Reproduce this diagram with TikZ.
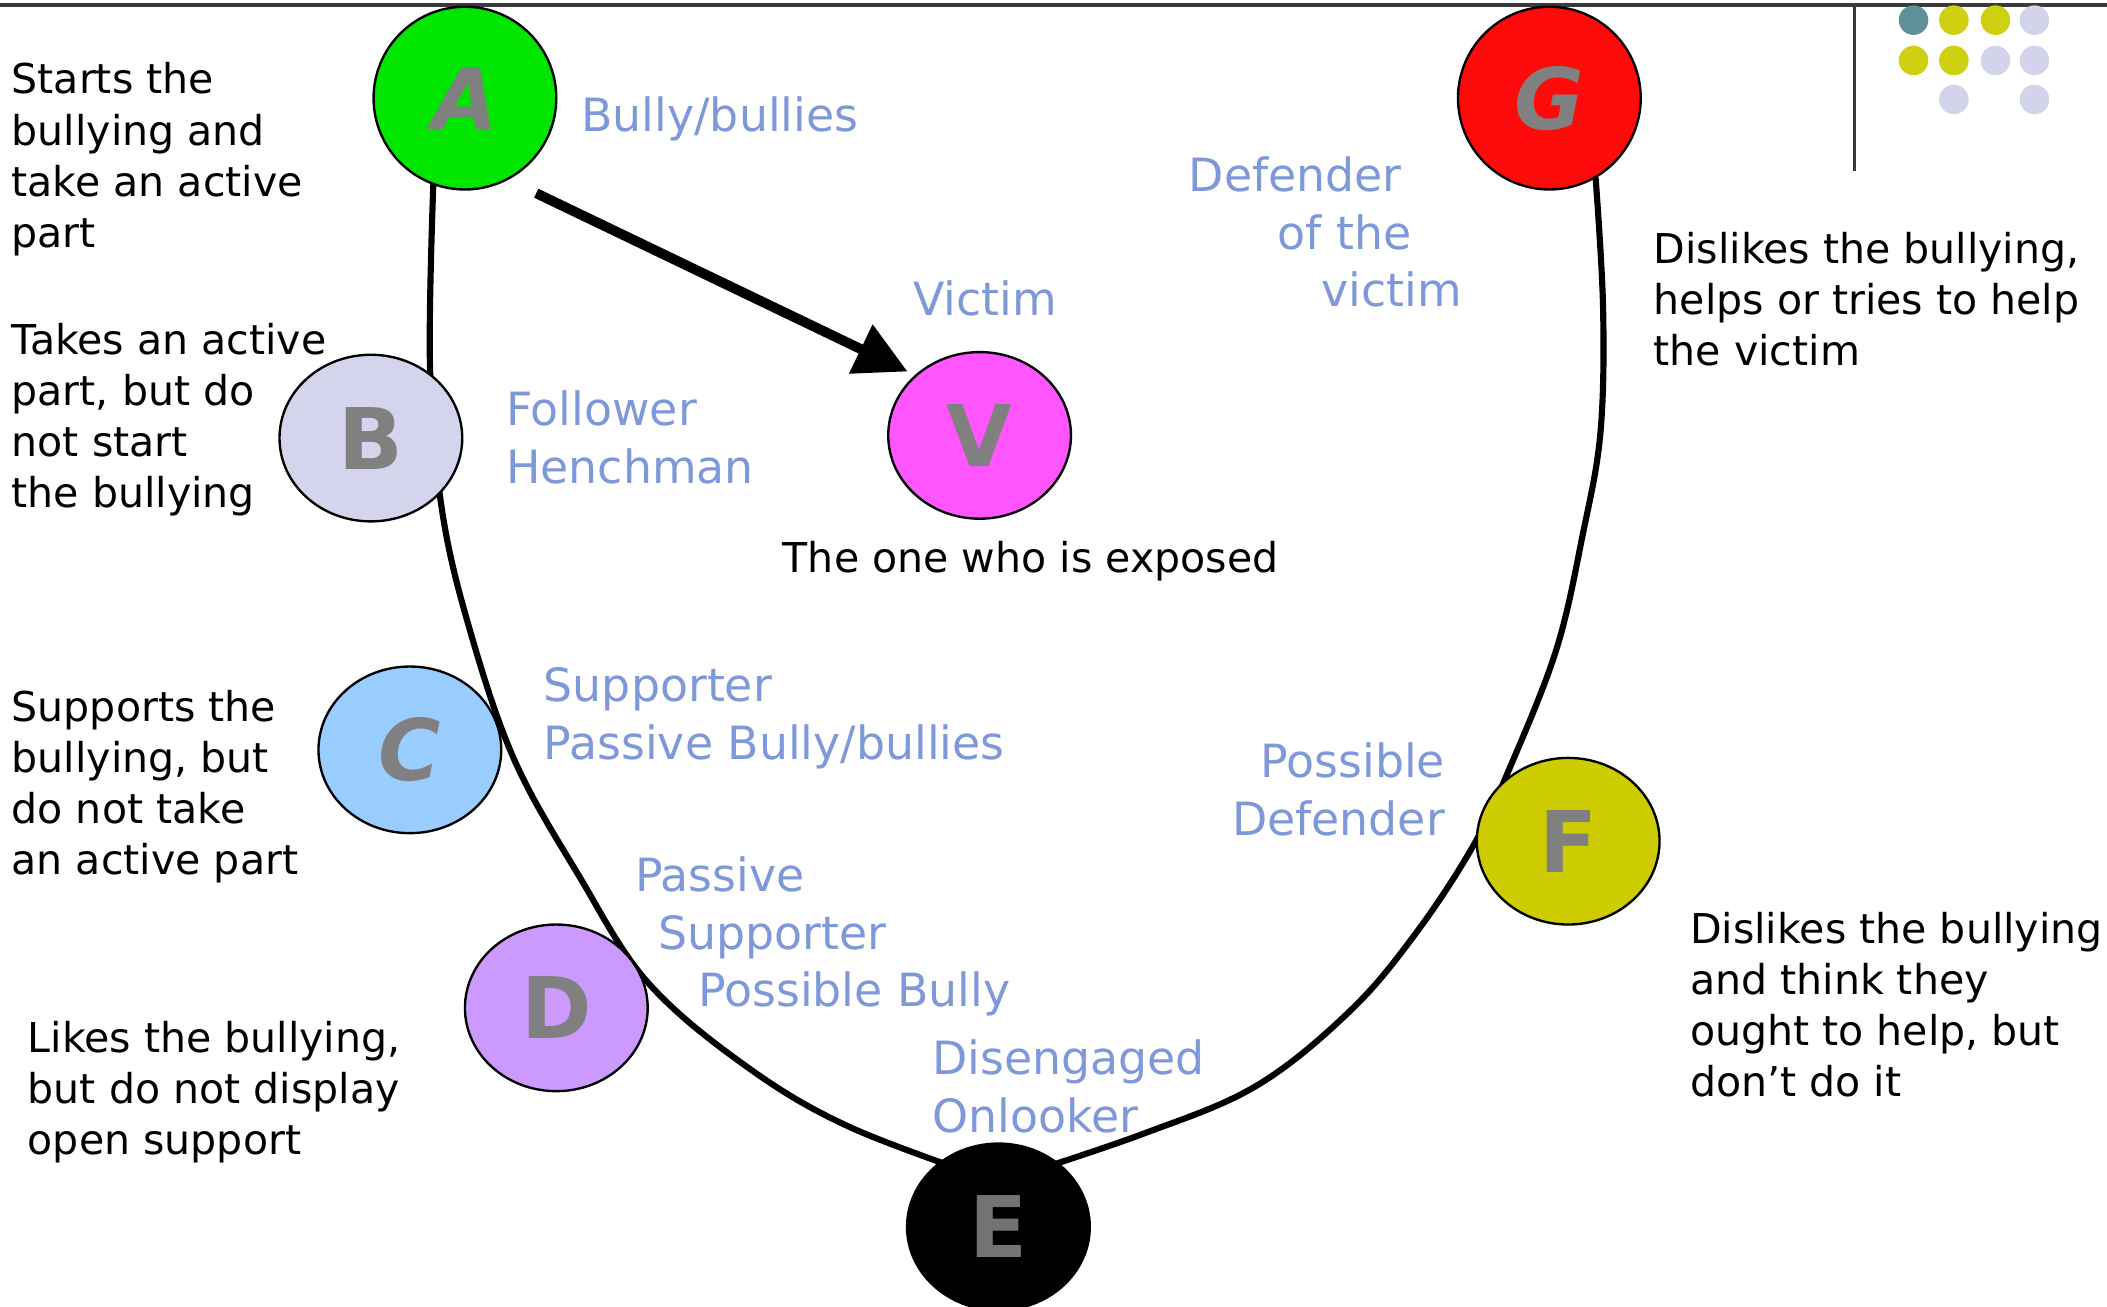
\documentclass[tikz,border=0pt]{standalone}
\usepackage{fontspec}
\setmainfont{DejaVu Sans}
\usetikzlibrary{shapes.geometric,arrows.meta,backgrounds}
\definecolor{letter}{HTML}{808080}
\definecolor{tagblue}{HTML}{7F98DA}
\definecolor{rule}{HTML}{3A3A3A}
\definecolor{bullyg}{HTML}{00E600}
\definecolor{henchl}{HTML}{D4D4EC}
\definecolor{victimm}{HTML}{FF55FF}
\definecolor{supportb}{HTML}{99CCFF}
\definecolor{passivep}{HTML}{CC99FF}
\definecolor{possibley}{HTML}{CCCC00}
\definecolor{defendr}{HTML}{FF0A0A}
\definecolor{dotteal}{HTML}{5F9097}
\definecolor{dotolive}{HTML}{D0D012}
\definecolor{dotlav}{HTML}{D3D3EC}
\newcommand{\notefont}{\fontsize{8.7}{10.8}\selectfont}
\newcommand{\tagfont}{\fontsize{9.7}{12.2}\selectfont}
\tikzset{
  role/.style={ellipse, draw=black, line width=0.5pt, minimum width=1.36cm,
    minimum height=1.24cm, inner sep=0pt, text=letter,
    font=\fontsize{18}{18}\selectfont\bfseries},
  rolebig/.style={role, minimum height=1.36cm},
  ring/.style={draw=black, line width=1.3pt, line cap=round},
  push/.style={draw=black, line width=2.1pt, -{Triangle[length=11pt,width=11pt]}},
  note/.style={font=\notefont, align=left, inner sep=0pt, text=black},
  tag/.style={font=\tagfont, align=left, inner sep=0pt, text=tagblue},
}

\begin{document}
\begin{tikzpicture}
  \useasboundingbox (0,0) rectangle (15.68,-9.72);

  % frame in the corner
  \draw[rule, line width=0.8pt] (0,-0.04) -- (15.68,-0.04);
  \draw[rule, line width=0.8pt] (13.80,-0.04) -- (13.80,-1.27);
  \foreach \x/\y/\c in {14.24/0.15/dotteal, 14.54/0.15/dotolive, 14.85/0.15/dotolive, 15.14/0.15/dotlav,
                        14.24/0.45/dotolive, 14.54/0.45/dotolive, 14.85/0.45/dotlav, 15.14/0.45/dotlav,
                        14.54/0.74/dotlav, 15.14/0.74/dotlav}
    \fill[fill=\c] (\x,-\y) circle (0.11);

  % the roles
  \node[rolebig, fill=bullyg] (A) at (3.46,-0.73) {\itshape A};
  \node[rolebig, fill=defendr] (G) at (11.53,-0.73) {\itshape G};
  \node[role, fill=henchl] (B) at (2.76,-3.26) {B};
  \node[role, fill=victimm] (V) at (7.29,-3.24) {V};
  \node[role, fill=supportb] (C) at (3.05,-5.58) {\itshape C};
  \node[role, fill=passivep] (D) at (4.14,-7.50) {D};
  \node[role, fill=black, text=letter!110] (E) at (7.43,-9.13) {E};
  \node[role, fill=possibley] (F) at (11.67,-6.26) {F};
  \coordinate (bot) at (7.43,-8.80);

  \begin{scope}[on background layer]
    \draw[ring] plot[smooth, tension=0.6] coordinates {(A.250) (3.20,-2.73) (3.29,-3.80)
      (3.50,-4.70) (3.83,-5.66) (4.31,-6.52) (4.82,-7.31) (5.56,-7.94) (6.33,-8.39) (bot)};
    \draw[ring] plot[smooth, tension=0.6] coordinates {(bot) (8.50,-8.44) (9.35,-8.08)
      (10.05,-7.52) (10.54,-6.94) (10.96,-6.30) (11.22,-5.75)
      (11.58,-4.84) (11.78,-3.97) (11.91,-3.22) (11.93,-2.30) (G.300)};
  \end{scope}
  \draw[push, shorten <=0.23cm, shorten >=0.06cm] (A.-62) -- (V.137);

  % what each role does
  \node[note, anchor=north west] (tA) at (0.08,-0.46) {Starts the\\bullying and\\take an active\\part};
  \node[note, anchor=north west] (tB) at (0.08,-2.40) {Takes an active\\part, but do\\not start\\the bullying};
  \node[note, anchor=north west] (tC) at (0.08,-5.13) {Supports the\\bullying, but\\do not take\\an active part};
  \node[note, anchor=north west] (tD) at (0.20,-7.59) {Likes the bullying,\\but do not display\\open support};
  \node[note, anchor=north] (tV) at (7.67,-4.02) {The one who is exposed};
  \node[note, anchor=north west] (tG) at (12.30,-1.72) {Dislikes the bullying,\\helps or tries to help\\the victim};
  \node[note, anchor=north west] (tF) at (12.57,-6.78) {Dislikes the bullying\\and think they\\ought to help, but\\don't do it};

  % role names
  \node[tag, anchor=north west] (lA) at (4.32,-0.71) {Bully/bullies};
  \node[tag, anchor=north west] (lG) at (8.84,-1.16) {Defender\\\hspace*{0.66cm}of the\\\hspace*{0.99cm}victim};
  \node[tag, anchor=north west] (lV) at (6.79,-2.08) {Victim};
  \node[tag, anchor=north west] (lB) at (3.76,-2.90) {Follower\\Henchman};
  \node[tag, anchor=north west] (lC) at (4.04,-4.96) {Supporter\\Passive Bully/bullies};
  \node[tag, anchor=north west] (lD) at (4.72,-6.37) {Passive\\\hspace*{0.17cm}Supporter\\\hspace*{0.47cm}Possible Bully};
  \node[tag, anchor=north west] (lE) at (6.93,-7.73) {Disengaged\\Onlooker};
  \node[tag, anchor=north east, align=right] (lF) at (10.76,-5.52) {Possible\\Defender};
\end{tikzpicture}
\end{document}
